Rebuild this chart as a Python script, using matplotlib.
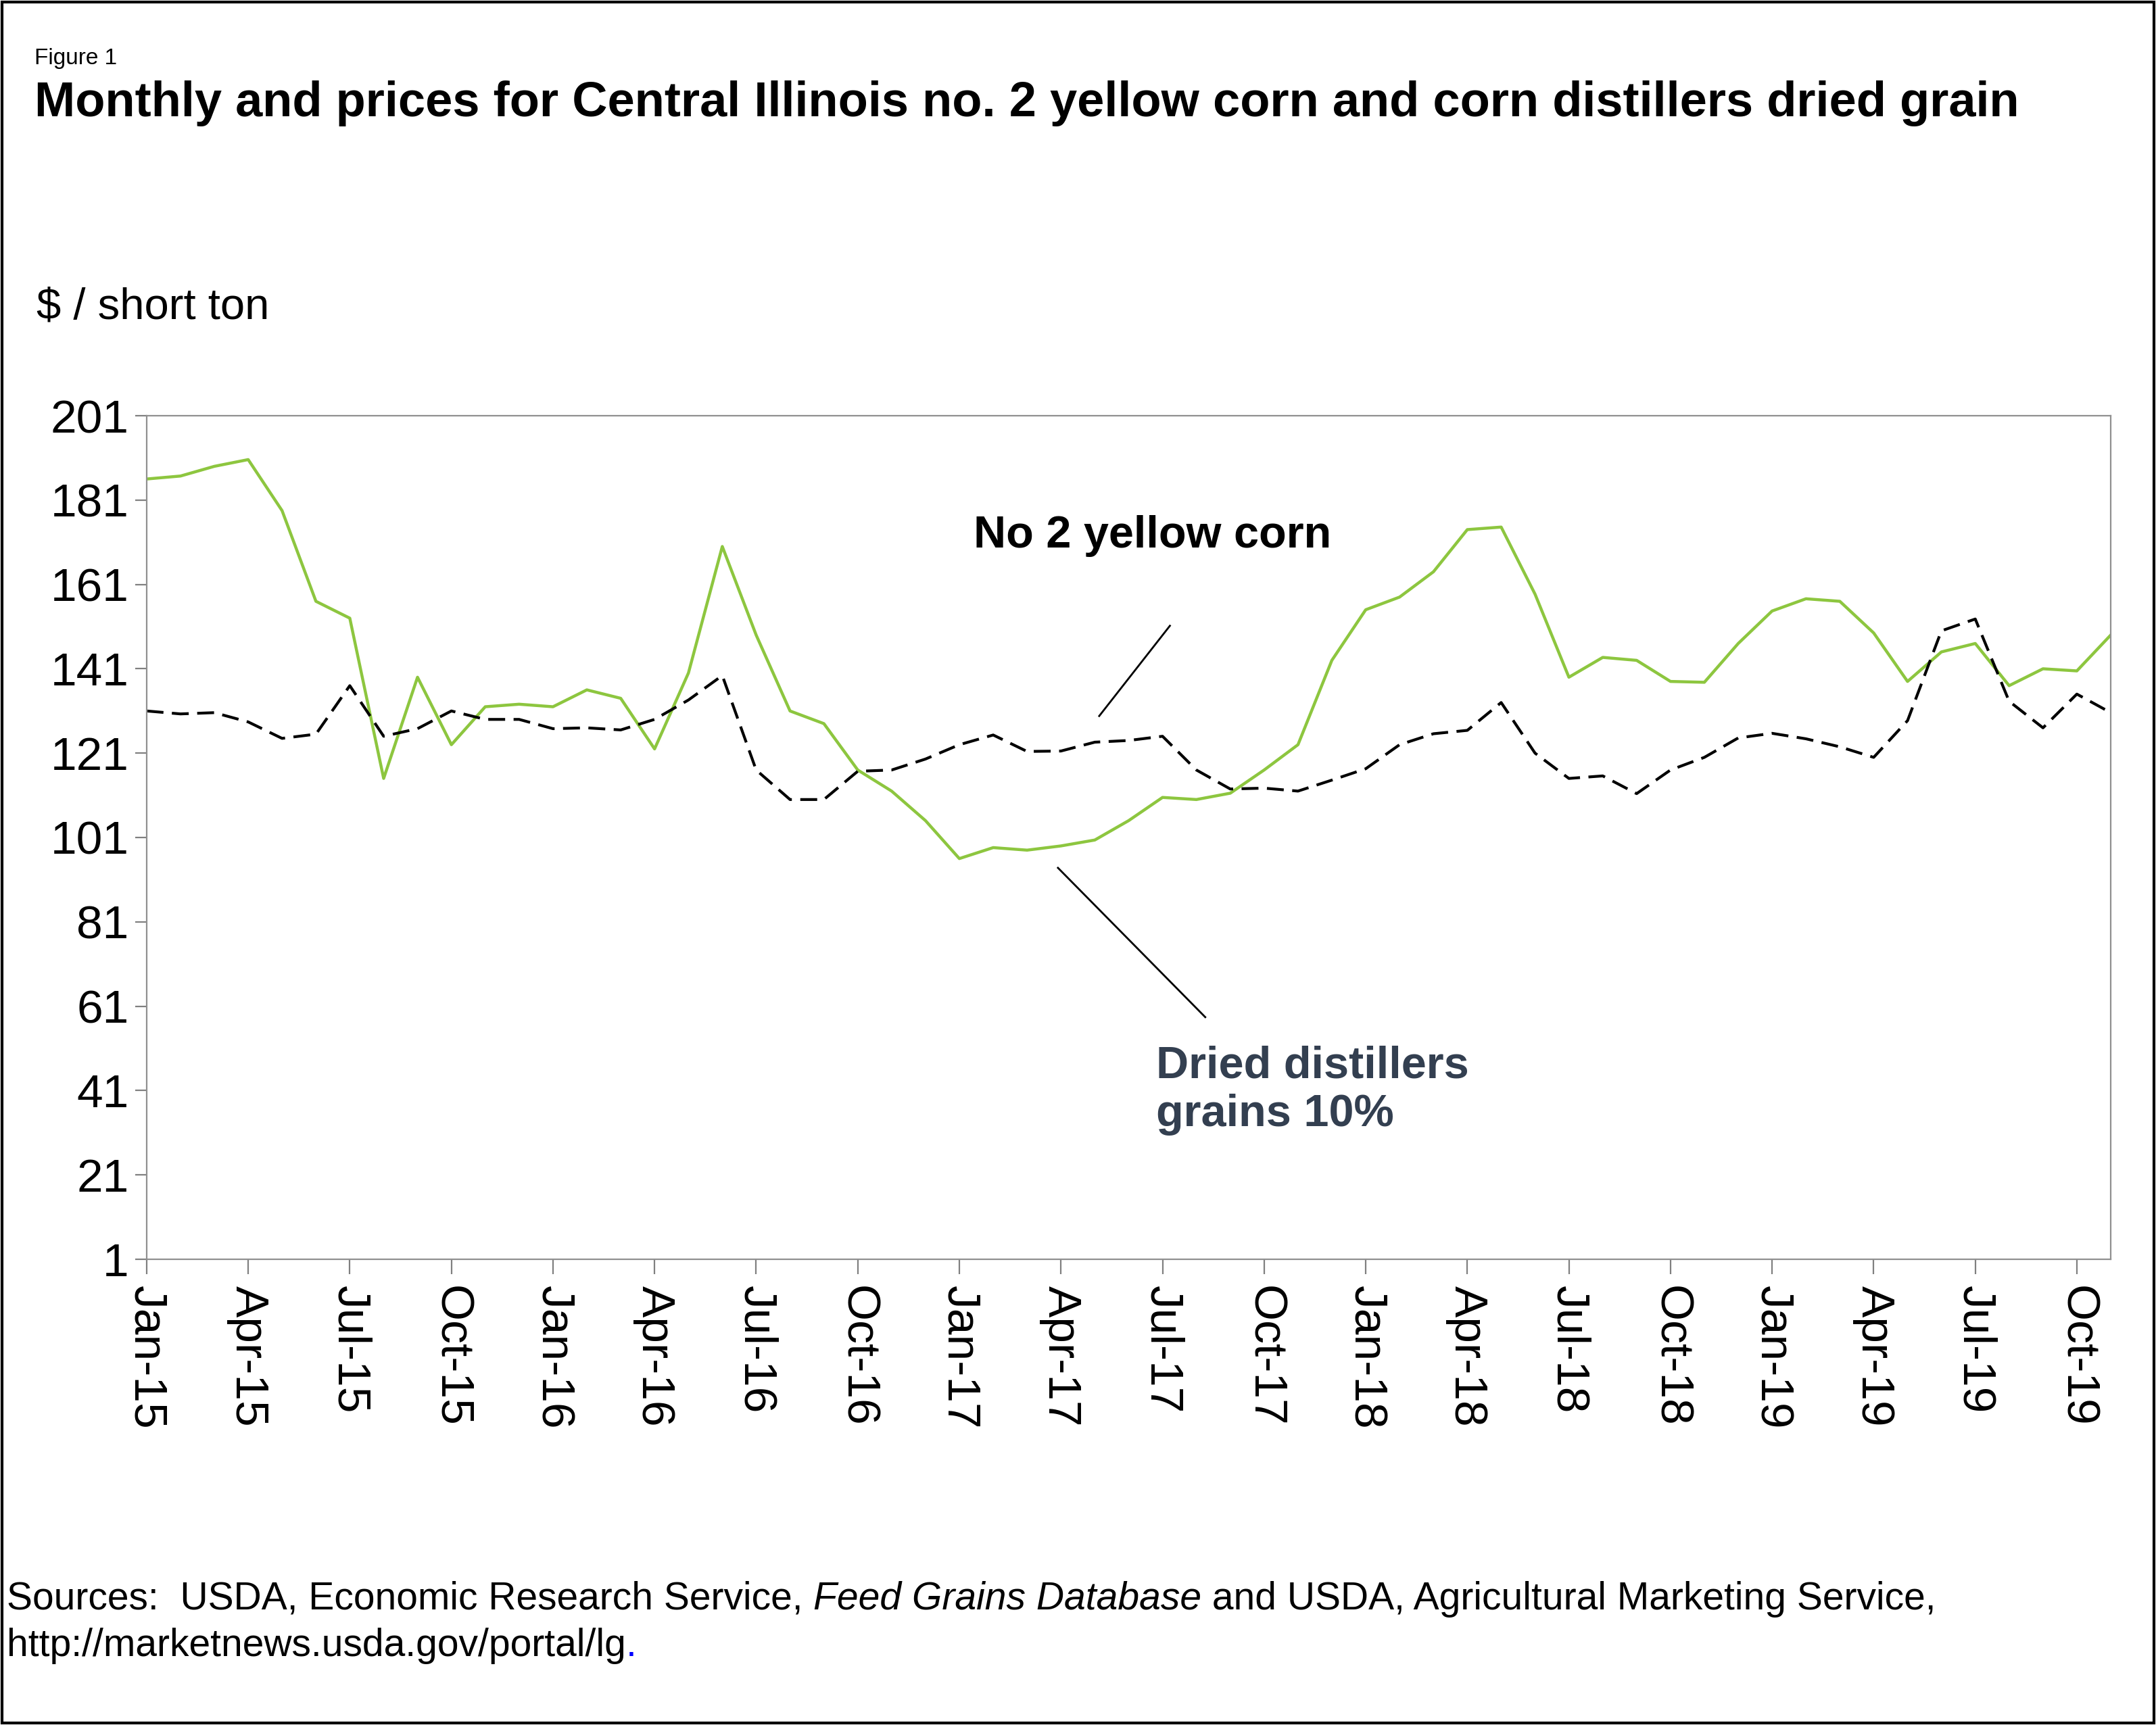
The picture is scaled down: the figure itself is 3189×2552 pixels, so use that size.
import matplotlib
matplotlib.use("Agg")
import matplotlib.pyplot as plt
import pandas as pd
from matplotlib.patches import Rectangle

plt.rcParams['font.family'] = ['Liberation Sans', 'DejaVu Sans']

months = pd.date_range("2015-01-01", "2019-11-01", freq="MS")
ddgs = [186, 186.7, 189, 190.6, 178.5, 157, 153, 115, 139, 123, 132, 132.6,
        132, 136, 134, 122, 140, 170, 149, 131, 128, 117, 112, 105,
        96, 98.6, 98, 99, 100.4, 105, 110.5, 110, 111.5, 117, 123, 143,
        155, 158, 164, 174, 174.6, 158.7, 139, 143.7, 143, 138, 137.8, 147,
        154.7, 157.6, 157, 149.5, 138, 145, 147, 137, 141, 140.5, 149]
corn = [131, 130.3, 130.6, 128.4, 124.5, 125.5, 137, 125, 126.8, 131, 129, 129,
        126.8, 127, 126.5, 129, 133.6, 139.4, 117, 110, 110, 116.7, 117, 119.6,
        123, 125.3, 121.4, 121.5, 123.6, 124, 125, 117, 112.5, 112.7, 112, 114.6,
        117.3, 123, 125.6, 126.4, 133, 121, 115, 115.6, 111.4, 117, 120, 124.6,
        125.7, 124.4, 122.5, 120, 128.7, 150, 152.8, 133.3, 127, 135, 130.6]
yticks = list(range(1, 202, 20))
tick_labels = [m.strftime("%b-%y") for m in months[::3]]

fig = plt.figure(figsize=(15.945, 12.76), dpi=200)
fig.patches.append(Rectangle((0.001, 0.001), 0.998, 0.998, transform=fig.transFigure,
                             fill=False, edgecolor='black', linewidth=1.5))
ax = fig.add_axes([0.068, 0.270, 0.911, 0.489])
x = list(range(len(months)))
ax.plot(x, ddgs, color='#8DC63F', linewidth=1.6)
ax.plot(x, corn, color='black', linewidth=1.5, dashes=(6, 3))
ax.set_xlim(0, len(months) - 1)
ax.set_ylim(1, 201)
ax.set_yticks(yticks)
ax.set_yticklabels([str(v) for v in yticks], fontsize=25)
ax.set_xticks(x[::3])
ax.set_xticklabels(tick_labels, rotation=270, fontsize=25)
ax.tick_params(axis='x', which='major', length=8, direction='out', color='#808080', pad=6)
ax.tick_params(axis='y', length=6, color='#808080')
for s in ax.spines.values():
    s.set_color('#909090')

ax.text(0.421, 0.857, "No 2 yellow corn", transform=ax.transAxes, fontsize=24,
        fontweight='bold', va='center')
ax.plot([0.521, 0.485], [0.751, 0.644], transform=ax.transAxes, color='black', lw=1)
ax.text(0.514, 0.20, "Dried distillers\ngrains 10%", transform=ax.transAxes, fontsize=24,
        fontweight='bold', va='center', color='#333F50', linespacing=1.2)
ax.plot([0.464, 0.539], [0.464, 0.287], transform=ax.transAxes, color='black', lw=1)

fig.text(0.016, 0.966, "Figure 1", fontsize=12, va='center')
fig.text(0.016, 0.940, "Monthly and prices for Central Illinois no. 2 yellow corn and corn distillers dried grain",
         fontsize=26, fontweight='bold', va='center')
fig.text(0.017, 0.822, "$ / short ton", fontsize=23.5, va='center')
t1 = fig.text(0.003, 0.073, "Sources:  USDA, Economic Research Service, ", fontsize=20.5, va='center')
r = fig.canvas.get_renderer()
bb = t1.get_window_extent(renderer=r)
t2 = fig.text(bb.x1 / fig.bbox.width, 0.073, "Feed Grains Database", fontsize=20.5,
              style='italic', va='center')
bb2 = t2.get_window_extent(renderer=r)
fig.text(bb2.x1 / fig.bbox.width, 0.073, " and USDA, Agricultural Marketing Service,",
         fontsize=20.5, va='center')
t4 = fig.text(0.003, 0.046, "http://marketnews.usda.gov/portal/lg", fontsize=20.5, va='center')
bb4 = t4.get_window_extent(renderer=r)
fig.text(bb4.x1 / fig.bbox.width, 0.046, ".", fontsize=20.5, va='center', color='blue')
fig.savefig("out.png", dpi=200)
